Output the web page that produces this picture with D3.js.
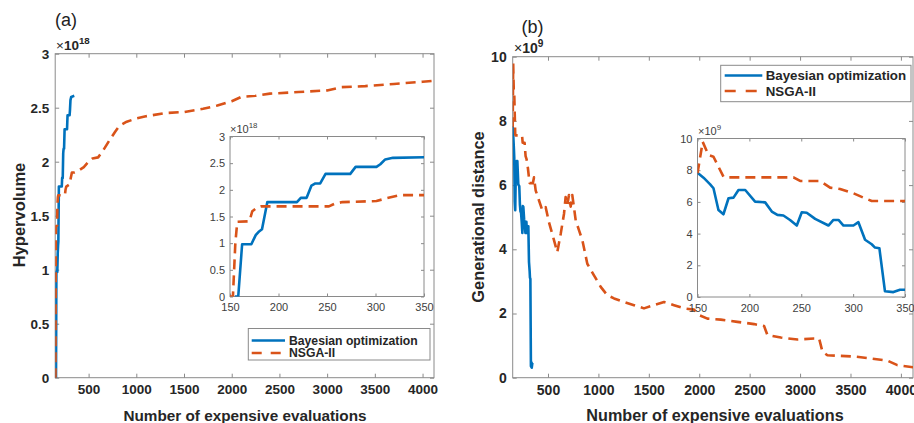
<!DOCTYPE html>
<html>
<head>
<meta charset="utf-8">
<script src="https://cdn.jsdelivr.net/npm/d3@7"></script>
<style>
  body { margin: 0; background: #fff; }
  svg { display: block; }
  text { font-family: Arial, "Liberation Sans", sans-serif; }
</style>
</head>
<body>
<svg id="chart" width="914" height="423"></svg>
<script>
// values: [evaluations, value]
var hvBayesian = [
  [155, 0], [158.5, 0], [162.5, 0.98], [172, 0.98], [176.5, 1.15], [180, 1.22], [183, 1.26],
  [188.5, 1.77], [219, 1.77], [223, 1.85], [229, 1.85], [234, 2.08], [238, 2.12], [243, 2.12],
  [248.5, 2.30], [274, 2.30], [279.5, 2.43], [301, 2.43], [305, 2.48], [310, 2.57], [318, 2.60],
  [350, 2.61]
];
var hvNsga = [
  [148, 0], [153, 0], [155.5, 1.0], [157.5, 1.40], [170, 1.41], [173, 1.60], [178, 1.67],
  [182, 1.69], [252, 1.69], [258, 1.74], [266, 1.77], [301, 1.79], [311, 1.84], [325, 1.90],
  [350, 1.90], [380, 1.91], [450, 1.95], [500, 2.0], [540, 2.03], [600, 2.04], [650, 2.10],
  [720, 2.20], [780, 2.28], [820, 2.33], [900, 2.37], [1000, 2.40], [1100, 2.42], [1300, 2.45],
  [1500, 2.46], [1700, 2.49], [1850, 2.52], [2000, 2.56], [2100, 2.60], [2250, 2.61],
  [2400, 2.63], [2700, 2.645], [3000, 2.66], [3150, 2.69], [3400, 2.70], [3700, 2.72],
  [4000, 2.74], [4120, 2.75]
];
var gdBayesian = [
  [150, 7.84], [155.8, 7.53], [162.2, 7.11], [165.4, 6.86], [170.2, 5.49], [175, 5.22],
  [179.9, 6.23], [184.7, 6.27], [189.5, 6.75], [196, 6.75], [205.5, 6.02], [215.2, 5.97],
  [221.6, 5.39], [227, 5.18], [232.8, 5.14], [239.2, 4.86], [245.7, 4.51], [250.5, 5.35],
  [255.3, 5.32], [263.4, 4.93], [276.2, 4.51], [281, 4.86], [285.9, 4.86], [290.7, 4.51],
  [300.3, 4.51], [305.1, 4.72], [311.5, 3.61], [317.9, 3.33], [321.1, 3.12], [325.3, 3.08],
  [330.7, 0.36], [338.8, 0.31], [345.2, 0.46], [350, 0.46]
];
var gdNsga = [
  [150, 7.8], [155, 9.79], [160.6, 8.95], [165.4, 8.85], [175, 7.59], [178.2, 7.55],
  [242.5, 7.55], [248.9, 7.32], [268.1, 7.32], [277.8, 6.90], [287.4, 6.81], [300.3, 6.54],
  [309.9, 6.27], [317.9, 6.06], [350, 6.06], [361, 6.24], [378, 5.83], [411, 5.52],
  [444, 5.21], [477, 5.31], [510, 4.84], [560, 4.28], [592, 3.91], [626, 4.48], [659, 5.11],
  [675, 5.63], [692, 5.38], [708, 5.69], [725, 5.33], [741, 5.69], [775, 4.90], [808, 4.59],
  [841, 4.28], [890, 3.55], [956, 3.19], [1023, 2.83], [1088, 2.57], [1155, 2.47],
  [1254, 2.36], [1353, 2.26], [1452, 2.16], [1552, 2.26], [1651, 2.36], [1750, 2.26],
  [1849, 2.16], [1948, 2.12], [1998, 1.95], [2081, 1.84], [2213, 1.81], [2378, 1.74],
  [2544, 1.67], [2643, 1.61], [2676, 1.33], [2809, 1.25], [2974, 1.19], [3139, 1.22],
  [3189, 1.22], [3222, 0.81], [3271, 0.70], [3536, 0.66], [3701, 0.60], [3866, 0.53],
  [3965, 0.39], [4131, 0.32]
];

var mainXTicks = [500, 1000, 1500, 2000, 2500, 3000, 3500, 4000];
var insetXTicks = [150, 200, 250, 300, 350];
var hvTicks = [0, 0.5, 1, 1.5, 2, 2.5, 3];
var gdTicks = [0, 2, 4, 6, 8, 10];
var seriesNames = ['Bayesian optimization', 'NSGA-II'];
var seriesColors = ['#0072BD', '#D95319'];

var svg = d3.select('#chart');
var DASH = '10,6';
var BOX = '#8a8a8a', INK = '#262626';

function drawAxes(cfg) {
    var g = svg.append('g');
    var x = d3.scaleLinear().domain(cfg.xDomain).range([cfg.left, cfg.right]),
        y = d3.scaleLinear().domain(cfg.yDomain).range([cfg.bottom, cfg.top]);
    var w = cfg.right - cfg.left, h = cfg.bottom - cfg.top;

    g.append('rect')
        .attr('x', cfg.left).attr('y', cfg.top).attr('width', w).attr('height', h)
        .attr('fill', '#fff').attr('stroke', BOX).attr('stroke-width', 1);

    var fmt = cfg.yFormat || d3.format('');
    var axes = [
        {ax: d3.axisBottom(x).tickValues(cfg.xTicks).tickFormat(d3.format('d')), pos: 'translate(0,' + cfg.bottom + ')', pad: cfg.xPad},
        {ax: d3.axisTop(x).tickValues(cfg.xTicks).tickFormat(''), pos: 'translate(0,' + cfg.top + ')', pad: 0},
        {ax: d3.axisLeft(y).tickValues(cfg.yTicks).tickFormat(fmt), pos: 'translate(' + cfg.left + ',0)', pad: cfg.yPad},
        {ax: d3.axisRight(y).tickValues(cfg.yTicks).tickFormat(''), pos: 'translate(' + cfg.right + ',0)', pad: 0}
    ];
    axes.forEach(function(a) {
        var ag = g.append('g').attr('transform', a.pos)
            .call(a.ax.tickSizeInner(-cfg.tickLen).tickSizeOuter(0).tickPadding(a.pad));
        ag.select('.domain').remove();
        ag.selectAll('line').attr('stroke', BOX);
        ag.selectAll('text')
            .attr('font-size', cfg.tickFont)
            .attr('font-weight', cfg.tickWeight)
            .attr('font-family', 'Arial, "Liberation Sans", sans-serif')
            .attr('fill', cfg.tickColor);
    });

    var clipId = cfg.id + '-clip';
    svg.append('clipPath').attr('id', clipId)
        .append('rect').attr('x', cfg.left).attr('y', cfg.top - 2).attr('width', w).attr('height', h + 2);

    var line = d3.line().x(function(d) { return x(d[0]); }).y(function(d) { return y(d[1]); });
    cfg.series.forEach(function(s, i) {
        g.append('path')
            .datum(s)
            .attr('clip-path', 'url(#' + clipId + ')')
            .attr('d', line)
            .attr('fill', 'none')
            .attr('stroke', seriesColors[i])
            .attr('stroke-width', cfg.lineWidth)
            .attr('stroke-linejoin', 'round')
            .attr('stroke-dasharray', i === 1 ? cfg.dash : null);
    });

    // exponent label (x10^n)
    var ex = g.append('text')
        .attr('x', cfg.expX).attr('y', cfg.expY)
        .attr('font-size', cfg.tickFont)
        .attr('font-weight', cfg.tickWeight)
        .attr('fill', cfg.tickColor);
    ex.append('tspan').attr('font-weight', 'normal').text('\u00d7');
    ex.append('tspan').text('10');
    ex.append('tspan').attr('font-size', cfg.tickFont * 0.72).attr('dy', -cfg.tickFont * 0.45).text(cfg.exponent);

    return {x: x, y: y, g: g};
}

function drawLegend(cfg) {
    var g = svg.append('g');
    g.append('rect')
        .attr('x', cfg.x0).attr('y', cfg.y0).attr('width', cfg.x1 - cfg.x0).attr('height', cfg.y1 - cfg.y0)
        .attr('fill', '#fff').attr('stroke', BOX).attr('stroke-width', 1);
    seriesNames.forEach(function(name, i) {
        var cy = cfg.rows[i];
        g.append('line')
            .attr('x1', cfg.lineX0).attr('x2', cfg.lineX1).attr('y1', cy).attr('y2', cy)
            .attr('stroke', seriesColors[i]).attr('stroke-width', 2.5)
            .attr('stroke-dasharray', i === 1 ? cfg.dash : null);
        g.append('text')
            .attr('x', cfg.textX).attr('y', cy).attr('dy', '0.36em')
            .attr('font-size', cfg.font).attr('font-weight', 'bold').attr('fill', INK)
            .text(name);
    });
}

function axisLabels(cfg) {
    svg.append('text')
        .attr('x', cfg.xlX).attr('y', cfg.xlY).attr('text-anchor', 'middle')
        .attr('font-size', cfg.xlFont).attr('font-weight', 'bold').attr('fill', INK)
        .text('Number of expensive evaluations');
    svg.append('text')
        .attr('transform', 'translate(' + cfg.ylX + ',' + cfg.ylY + ') rotate(-90)')
        .attr('text-anchor', 'middle').attr('dy', '0.36em')
        .attr('font-size', cfg.ylFont).attr('font-weight', 'bold').attr('fill', INK)
        .text(cfg.ylabel);
    svg.append('text')
        .attr('x', cfg.tX).attr('y', cfg.tY)
        .attr('font-family', '"Liberation Serif", "DejaVu Serif", serif')
        .attr('font-size', 18).attr('fill', '#222')
        .text(cfg.title);
}

// ---- (a) hypervolume ----
drawAxes({
    id: 'hv', left: 55.2, right: 434, top: 53.7, bottom: 377.7,
    xDomain: [150, 4120], yDomain: [0, 3], xTicks: mainXTicks, yTicks: hvTicks,
    xPad: 7, yPad: 6, tickLen: 4, tickFont: 13.5, tickWeight: 'bold', tickColor: INK,
    lineWidth: 2.6, dash: DASH, series: [hvBayesian, hvNsga],
    expX: 56, expY: 50, exponent: '18'
});
drawAxes({
    id: 'hvIn', left: 230, right: 424, top: 136.5, bottom: 296.5,
    xDomain: [150, 350], yDomain: [0, 3], xTicks: insetXTicks, yTicks: hvTicks,
    xPad: 7, yPad: 5, tickLen: 3, tickFont: 11, tickWeight: 'normal', tickColor: '#404040',
    lineWidth: 2.6, dash: DASH, series: [hvBayesian, hvNsga],
    expX: 230, expY: 133, exponent: '18'
});
drawLegend({
    x0: 248.3, x1: 430, y0: 328.5, y1: 360, rows: [340.5, 353],
    lineX0: 251.7, lineX1: 285, textX: 289, font: 12.2, dash: '10,9'
});
axisLabels({
    xlX: 245, xlY: 421, xlFont: 15.3, ylX: 19, ylY: 215, ylFont: 16.5,
    ylabel: 'Hypervolume', tX: 55, tY: 26, title: '(a)'
});

// ---- (b) generational distance ----
drawAxes({
    id: 'gd', left: 512.7, right: 913, top: 56.7, bottom: 377.7,
    xDomain: [150, 4120], yDomain: [0, 10], xTicks: mainXTicks, yTicks: gdTicks,
    xPad: 7, yPad: 6, tickLen: 4, tickFont: 14, tickWeight: 'bold', tickColor: INK,
    lineWidth: 2.6, dash: DASH, series: [gdBayesian, gdNsga],
    expX: 514, expY: 53, exponent: '9'
});
drawAxes({
    id: 'gdIn', left: 697.5, right: 905, top: 138.5, bottom: 297,
    xDomain: [150, 350], yDomain: [0, 10], xTicks: insetXTicks, yTicks: gdTicks,
    xPad: 7, yPad: 5, tickLen: 3, tickFont: 11, tickWeight: 'normal', tickColor: '#404040',
    lineWidth: 2.6, dash: DASH, series: [gdBayesian, gdNsga],
    expX: 698, expY: 135, exponent: '9'
});
drawLegend({
    x0: 720.7, x1: 911, y0: 65.3, y1: 101.7, rows: [75.5, 91],
    lineX0: 724.7, lineX1: 762.3, textX: 765.7, font: 13.3, dash: '11,10'
});
axisLabels({
    xlX: 715, xlY: 421, xlFont: 16.2, ylX: 478, ylY: 217, ylFont: 16.4,
    ylabel: 'Generational distance', tX: 521.5, tY: 33, title: '(b)'
});
</script>
</body>
</html>
